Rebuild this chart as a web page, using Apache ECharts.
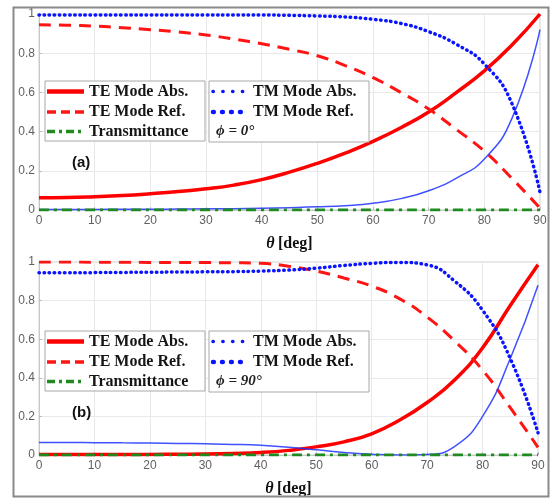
<!DOCTYPE html>
<html><head><meta charset="utf-8">
<script src="https://cdn.jsdelivr.net/npm/echarts@6/dist/echarts.min.js"></script>
<style>html,body{margin:0;padding:0;background:#fff}#c{width:553px;height:498px}</style>
</head><body><div id="c"></div>
<script>
// incidence angle (deg)
const theta = [0,5,10,15,20,25,30,35,40,45,50,55,60,65,70,75,80,85,90];
const xTicks = [0,10,20,30,40,50,60,70,80,90];
const yTicks = [0,0.2,0.4,0.6,0.8,1];

// (a) phi = 0
const teAbsA = [0.063,0.064,0.068,0.074,0.083,0.094,0.108,0.127,0.155,0.193,0.238,0.29,0.35,0.42,0.5,0.6,0.71,0.843,1.0];
const teRefA = [0.945,0.943,0.938,0.93,0.92,0.908,0.893,0.872,0.848,0.82,0.787,0.737,0.675,0.6,0.515,0.41,0.3,0.16,0.01];
const tmAbsA = [0.003,0.003,0.003,0.004,0.004,0.005,0.006,0.007,0.009,0.012,0.016,0.022,0.034,0.058,0.098,0.163,0.26,0.47,0.92];
const tmRefA = [0.995,0.995,0.995,0.995,0.995,0.995,0.995,0.995,0.995,0.993,0.99,0.985,0.973,0.952,0.91,0.845,0.745,0.54,0.09];
const transA = [0,0,0,0,0,0,0,0,0,0,0,0,0,0,0,0,0,0,0];

// (b) phi = 90
const teAbsB = [0.002,0.002,0.002,0.003,0.003,0.004,0.005,0.008,0.013,0.024,0.042,0.068,0.11,0.18,0.272,0.39,0.555,0.775,0.986];
const teRefB = [1.0,1.0,0.999,0.999,0.998,0.998,0.997,0.996,0.993,0.978,0.953,0.917,0.875,0.81,0.715,0.59,0.44,0.245,0.04];
const tmAbsB = [0.065,0.065,0.064,0.063,0.062,0.06,0.058,0.055,0.05,0.04,0.027,0.013,0.004,0.0,0.003,0.045,0.2,0.5,0.88];
const tmRefB = [0.944,0.944,0.945,0.946,0.947,0.948,0.949,0.95,0.953,0.958,0.968,0.982,0.993,0.998,0.985,0.9,0.75,0.5,0.115];
const transB = [0,0,0,0,0,0,0,0,0,0,0,0,0,0,0,0,0,0,0];

const legendLeft = ['TE Mode Abs.','TE Mode Ref.','Transmittance'];
const legendRight = ['TM Mode Abs.','TM Mode Ref.'];
const phiLabels = ['ϕ = 0°','ϕ = 90°'];
const panelLabels = ['(a)','(b)'];

const pair = (ys) => theta.map((t,i)=>[t, ys[i]]);

const styles = {
  teAbs: {color:'#ff0000', width:3.5, type:'solid'},
  teRef: {color:'#ff1414', width:3, type:[12,8]},
  tmAbs: {color:'rgba(30,50,255,0.85)', width:1.5, type:'solid'},
  tmRef: {color:'#0a14ff', width:3.5, type:[0.5,4.6], cap:'round'},
  trans: {color:'#1f8a1f', width:3, type:[10,5,3,5]}
};

function mkSeries(name, ys, st, g){
  return {type:'line', name, xAxisIndex:g, yAxisIndex:g, data:pair(ys), symbol:'none',
    smooth:0.5, clip:true,
    lineStyle:{color:st.color, width:st.width, type:st.type, cap:st.cap||'butt'}};
}

function mkX(g){
  return {type:'value', gridIndex:g, min:0, max:90, interval:10,
    axisLine:{show:true, lineStyle:{color:'#c8c8c8'}},
    axisTick:{show:true, inside:true, length:3, lineStyle:{color:'#bbb'}},
    axisLabel:{color:'#606060', fontSize:12, fontFamily:'Liberation Sans', margin:5,
      customValues: xTicks},
    splitLine:{show:true, lineStyle:{color:'#e9e9e9'}},
    name:'{t|θ} {d|[deg]}', nameLocation:'middle', nameGap:26,
    nameTextStyle:{rich:{
      t:{fontStyle:'italic', fontWeight:'bold', fontFamily:'Liberation Serif', fontSize:16, color:'#111'},
      d:{fontWeight:'bold', fontFamily:'Liberation Serif', fontSize:16, color:'#111'}}}
  };
}
function mkY(g){
  return {type:'value', gridIndex:g, min:0, max:1, interval:0.2,
    axisLine:{show:true, lineStyle:{color:'#c8c8c8'}},
    axisTick:{show:true, inside:true, length:3, lineStyle:{color:'#bbb'}},
    axisLabel:{color:'#606060', fontSize:12, fontFamily:'Liberation Sans', margin:4,
      formatter:(v)=>String(+v.toFixed(1))},
    splitLine:{show:true, lineStyle:{color:'#e9e9e9'}}
  };
}

function legendGraphics(dy, idx){
  const els = [];
  const font = 'bold 16px "Liberation Serif"';
  els.push({type:'rect', z:100, shape:{x:45, y:81+dy, width:160, height:60},
    style:{fill:'#fff', stroke:'#a8a8a8', lineWidth:1}});
  els.push({type:'rect', z:100, shape:{x:209, y:81+dy, width:160, height:61},
    style:{fill:'#fff', stroke:'#a8a8a8', lineWidth:1}});
  const ys = [91.5+dy, 112+dy, 131.5+dy];
  const lst = [styles.teAbs, styles.teRef, styles.trans];
  legendLeft.forEach((name,i)=>{
    const st = lst[i];
    els.push({type:'line', z:101, shape:{x1:47, y1:ys[i], x2:84, y2:ys[i]},
      style:{stroke:st.color, lineWidth: i===0?4.5:3.5, lineDash: st.type==='solid'?null:(i===1?[9,5]:[8,4,3,4])}});
    els.push({type:'text', z:101, x:89, y:ys[i], style:{text:name, font, fill:'#151515', verticalAlign:'middle'}});
  });
  // TM entries
  els.push({type:'line', z:101, shape:{x1:213, y1:ys[0], x2:247, y2:ys[0]},
    style:{stroke:'#0a14ff', lineWidth:3.5, lineCap:'round', lineDash:[0.3,9.5]}});
  els.push({type:'line', z:101, shape:{x1:213, y1:ys[1], x2:247, y2:ys[1]},
    style:{stroke:'#0a14ff', lineWidth:4.5, lineCap:'round', lineDash:[0.8,8.2]}});
  legendRight.forEach((name,i)=>{
    els.push({type:'text', z:101, x:253, y:ys[i], style:{text:name, font, fill:'#151515', verticalAlign:'middle'}});
  });
  els.push({type:'text', z:101, x:216, y:ys[2], style:{text:phiLabels[idx], font:'italic bold 15px "Liberation Serif"', fill:'#222', verticalAlign:'middle'}});
  els.push({type:'text', z:101, x:72, y:163+dy, style:{text:panelLabels[idx], font:'bold 15px "Liberation Sans"', fill:'#111', verticalAlign:'middle'}});
  return els;
}

const chart = echarts.init(document.getElementById('c'), null, {renderer:'canvas'});
chart.setOption({
  backgroundColor:'#fff',
  animation:false,
  grid:[
    {left:39, top:14, width:501, height:196, show:true, backgroundColor:'#fff', borderColor:'#d0d0d0', borderWidth:1},
    {left:39, top:262, width:499, height:196, show:true, backgroundColor:'#fff', borderColor:'#d0d0d0', borderWidth:1}
  ],
  xAxis:[mkX(0), mkX(1)],
  yAxis:[mkY(0), mkY(1)],
  series:[
    mkSeries('TE Mode Abs.', teAbsA, styles.teAbs, 0),
    mkSeries('TE Mode Ref.', teRefA, styles.teRef, 0),
    mkSeries('TM Mode Abs.', tmAbsA, styles.tmAbs, 0),
    mkSeries('TM Mode Ref.', tmRefA, styles.tmRef, 0),
    mkSeries('Transmittance', transA, styles.trans, 0),
    mkSeries('TE Mode Abs.', teAbsB, styles.teAbs, 1),
    mkSeries('TE Mode Ref.', teRefB, styles.teRef, 1),
    mkSeries('TM Mode Abs.', tmAbsB, styles.tmAbs, 1),
    mkSeries('TM Mode Ref.', tmRefB, styles.tmRef, 1),
    mkSeries('Transmittance', transB, styles.trans, 1)
  ],
  graphic:[
    {type:'rect', z:120, shape:{x:13.5, y:7.5, width:535, height:489}, style:{fill:'none', stroke:'#8a8a8a', lineWidth:2}},
    ...legendGraphics(0, 0),
    ...legendGraphics(250, 1)
  ]
});
</script></body></html>
